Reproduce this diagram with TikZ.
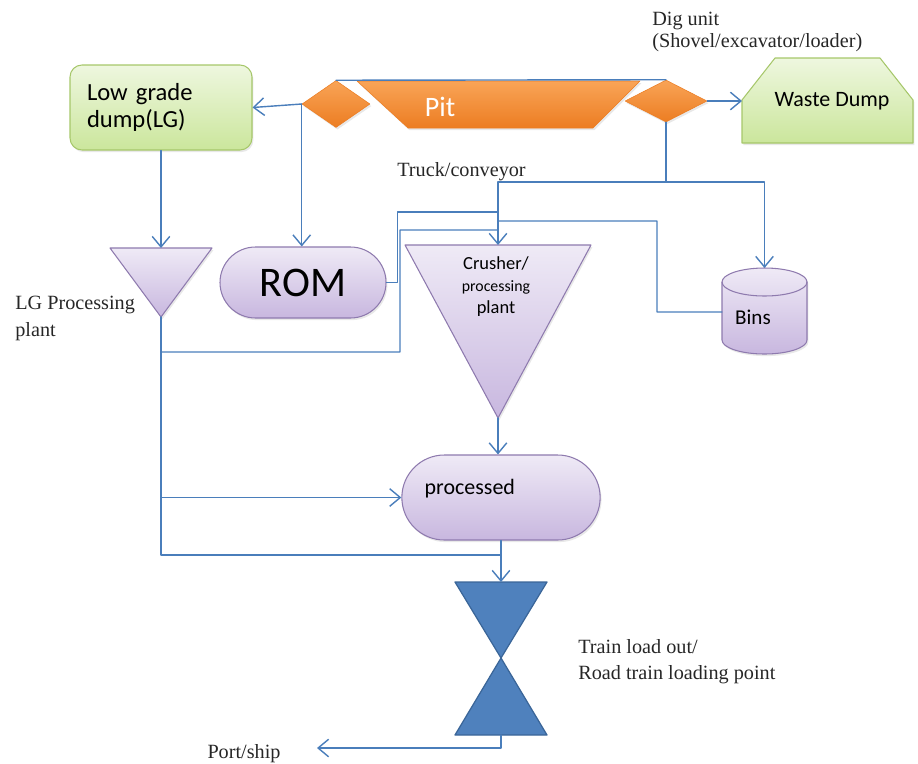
\documentclass[tikz,border=0pt]{standalone}
\usepackage{fontspec}
\setmainfont{Liberation Serif}
\newfontfamily\calfont{Carlito}
\usetikzlibrary{arrows.meta,calc}
\usetikzlibrary{positioning,shapes.geometric,shapes.misc,shadows}

\definecolor{flowc}{HTML}{4A7EBB}
\definecolor{greentop}{HTML}{EEF7DF}
\definecolor{greenbot}{HTML}{CBE69C}
\definecolor{greenline}{HTML}{A6C76A}
\definecolor{lavtop}{HTML}{EFEAF6}
\definecolor{lavbot}{HTML}{C8B7DF}
\definecolor{lavline}{HTML}{8E7AAE}
\definecolor{orangetop}{HTML}{F9A457}
\definecolor{orangebot}{HTML}{EC7D22}
\definecolor{loadfill}{HTML}{4F81BD}
\definecolor{loadline}{HTML}{3A6598}

\begin{document}
\begin{tikzpicture}[>={Straight Barb[length=6pt,width=10pt]},line cap=round,line join=round,
  flow/.style={draw=flowc,line width=0.8pt},
  shade/.style={drop shadow={opacity=0.18,shadow xshift=0.8pt,shadow yshift=-1.2pt}},
  gbox/.style={draw=greenline,line width=0.6pt,top color=greentop,bottom color=greenbot,shade},
  pbox/.style={draw=lavline,line width=0.6pt,top color=lavtop,bottom color=lavbot,shade},
  obox/.style={draw=orangebot,line width=0.3pt,top color=orangetop,bottom color=orangebot,shade},
  loadbox/.style={draw=loadline,line width=0.7pt,fill=loadfill},
  lbl/.style={font=\fontsize{11.5}{14.5}\selectfont,inner sep=0pt,align=left,text=black!85}]
\useasboundingbox (0,0) rectangle (18.36,-15.26);
% pit and dig units
\draw[obox] (7.14,-1.62) -- (12.8,-1.62) -- (11.86,-2.56) -- (8.16,-2.56) -- cycle;
\node[font=\calfont\fontsize{16}{18}\selectfont,text=white] (pit) at (8.8,-2.14) {Pit};
\node[obox,diamond,minimum width=1.36cm,minimum height=0.94cm,inner sep=0pt] (digl) at (6.72,-2.08) {};
\node[obox,diamond,minimum width=1.64cm,minimum height=0.84cm,inner sep=0pt] (digr) at (13.32,-2.02) {};
\draw[flow] (digl.north) -- (digr.north);
% waste dump
\draw[gbox] (14.84,-2.0) -- (15.5,-1.16) -- (17.6,-1.16) -- (18.26,-2.0) -- (18.26,-2.86) -- (14.84,-2.86) -- cycle;
\node[font=\calfont\fontsize{12.5}{15}\selectfont] (waste) at (16.64,-2.02) {Waste Dump};
\coordinate (wastew) at (14.84,-2.02);
% low grade dump
\node[gbox,rounded corners=0.24cm,minimum width=3.64cm,minimum height=1.7cm,text width=2.96cm,inner xsep=0.34cm,
  align=left,font=\calfont\fontsize{14}{15.5}\selectfont] (lg) at (3.22,-2.15) {Low grade\\dump(LG)};
% LG processing plant
\coordinate (lgtop) at (3.22,-4.96);
\coordinate (lgapex) at (3.22,-6.34);
\draw[pbox] (2.2,-4.96) -- (4.24,-4.96) -- (lgapex) -- cycle;
% ROM
\node[pbox,rounded rectangle,minimum width=3.32cm,minimum height=1.42cm,inner xsep=0pt,
  font=\calfont\fontsize{24}{28}\selectfont] (rom) at (6.06,-5.65) {ROM};
% crusher
\coordinate (crtop) at (9.96,-4.9);
\coordinate (crapex) at (9.96,-8.36);
\draw[pbox] (8.1,-4.9) -- (11.82,-4.9) -- (crapex) -- cycle;
\node[font=\calfont\fontsize{10.5}{12.5}\selectfont,align=center] (crtext) at (9.92,-5.74)
  {Crusher/\\{\fontsize{9}{12.5}\selectfont processing}\\plant};
% bins
\coordinate (binstop) at (15.29,-5.36);
\coordinate (binsw) at (14.44,-6.24);
\draw[pbox] (14.44,-5.64) -- (14.44,-6.8) arc[start angle=180,end angle=360,x radius=0.85,y radius=0.28]
  -- (16.14,-5.64) arc[start angle=0,end angle=180,x radius=0.85,y radius=0.28] -- cycle;
\draw[draw=lavline,line width=0.6pt] (14.44,-5.64) arc[start angle=180,end angle=360,x radius=0.85,y radius=0.28];
\node[font=\calfont\fontsize{12}{14}\selectfont] (bins) at (15.06,-6.34) {Bins};
% processed
\node[pbox,rounded rectangle,minimum width=4.2cm,minimum height=1.7cm] (proc) at (10.02,-9.95) {};
\node[font=\calfont\fontsize{12.5}{15}\selectfont,anchor=west,inner sep=0pt] (proctext)
  at ([xshift=0.46cm,yshift=0.17cm]proc.west) {processed};
% load out
\coordinate (loadtop) at (10.02,-11.64);
\coordinate (loadmid) at (10.02,-13.16);
\coordinate (loadbot) at (10.02,-14.7);
\draw[loadbox] (9.1,-11.64) -- (10.94,-11.64) -- (loadmid) -- cycle;
\draw[loadbox] (loadmid) -- (10.94,-14.7) -- (9.1,-14.7) -- cycle;
% labels
\node[lbl,anchor=north west,font=\fontsize{11.5}{12.5}\selectfont] (dig) at (13.04,-0.24) {Dig unit\\(Shovel/excavator/loader)};
\node[lbl,anchor=west] (truck) at (7.94,-3.44) {Truck/conveyor};
\node[lbl,anchor=west,font=\fontsize{11.5}{15.3}\selectfont] (lgplant) at (0.3,-6.37) {LG Processing\\plant};
\node[lbl,anchor=west,font=\fontsize{11.5}{14.7}\selectfont] (train) at (11.56,-13.24) {Train load out/\\Road train loading point};
\node[lbl] (portlbl) at (4.88,-15.08) {Port/ship};
% connectors
\draw[flow,->] (digl.west) -- (lg.east);
\draw[flow,->] (digl.west) -- (digl.west |- rom.north);
\draw[flow,->] (digr.east) -- (wastew);
\draw[flow,->] (lg.south) -- (lgtop);
\coordinate (tj) at (13.32,-3.64);
\draw[flow] (digr.south) -- (tj);
\draw[flow,->] (tj) -| (binstop);
\draw[flow,->] (tj) -| (crtop);
\draw[flow] (rom.east) -- ++(0.22,0) |- ($(crtop)+(0,0.66)$);
\draw[flow] (binsw) -| (13.14,-4.42) -- ($(crtop)+(0,0.48)$);
\draw[flow] (lgapex |- 0,-7.04) -| (8.0,-4.6) -- ($(crtop)+(0,0.3)$);
\draw[flow] (lgapex) |- (loadtop |- 0,-11.1);
\draw[flow,->] (lgapex |- proc.west) -- (proc.west);
\draw[flow,->] (crapex) -- (crapex |- proc.north);
\draw[flow,->] (proc.south) -- (loadtop);
\coordinate (port) at (6.34,-14.96);
\draw[flow,->] (loadbot) |- (port);
\end{tikzpicture}
\end{document}
